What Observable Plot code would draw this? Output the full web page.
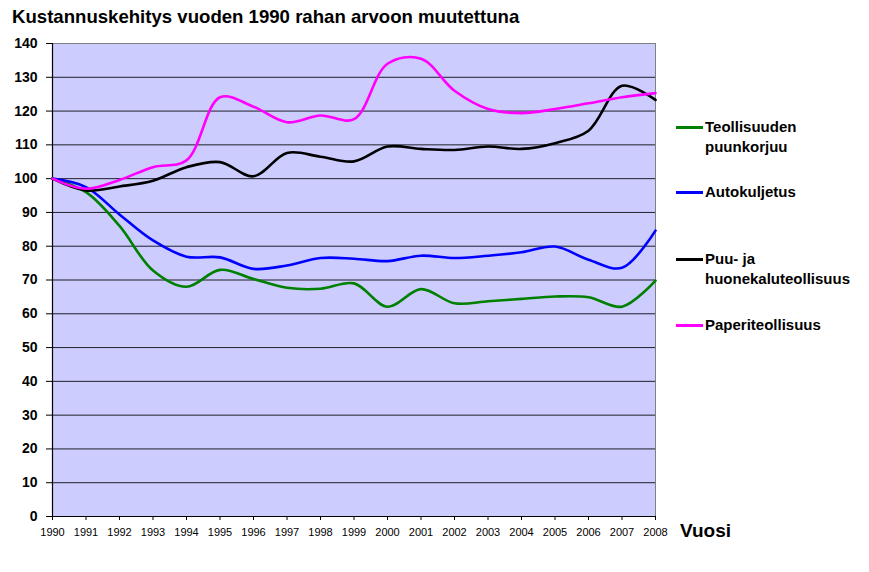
<!DOCTYPE html>
<html>
<head>
<meta charset="utf-8">
<script src="https://cdn.jsdelivr.net/npm/d3@7"></script>
<script src="https://cdn.jsdelivr.net/npm/@observablehq/plot@0.6"></script>
<style>
  body { margin: 0; background: #fff; font-family: "Liberation Sans", Arial, sans-serif; }
  #wrap { position: relative; width: 869px; height: 572px; }
  #title { position: absolute; left: 12px; top: 6px; font-size: 18.6px; font-weight: bold; color: #000; white-space: nowrap; }
  #xlabel { position: absolute; left: 680px; top: 520px; font-size: 19px; font-weight: bold; }
  .leg { position: absolute; left: 676px; font-size: 15px; font-weight: bold; line-height: 20px; }
  .leg .sw { position: absolute; left: 0; top: 9px; width: 27px; height: 3px; }
  .leg .tx { margin-left: 29px; white-space: nowrap; }
  svg { position: absolute; left: 0; top: 0; }
</style>
</head>
<body>
<div id="wrap">
  <div id="chart"></div>
  <div id="title">Kustannuskehitys vuoden 1990 rahan arvoon muutettuna</div>
  <div id="xlabel">Vuosi</div>
  <div id="legend"></div>
</div>
<script>
const years = [1990,1991,1992,1993,1994,1995,1996,1997,1998,1999,2000,2001,2002,2003,2004,2005,2006,2007,2008];
const puunkorjuu = [100,96,86,72.8,68,73,70.3,67.7,67.4,69,62.1,67.3,63.1,63.7,64.4,65.1,64.9,62.1,69.8];
const autokuljetus = [100,97.5,89.4,81.7,76.9,76.7,73.3,74.3,76.5,76.3,75.6,77.2,76.5,77.2,78.2,79.9,76,73.6,84.6];
const puuHuonekalu = [100,96.5,97.7,99.4,103.4,104.9,100.7,107.6,106.5,105.1,109.5,108.8,108.5,109.5,108.8,110.5,114.2,127.5,123.3];
const paperi = [100,97,99.6,103.4,105.4,124.1,121.3,116.7,118.7,117.6,134,135.5,126,120.6,119.4,120.6,122.3,124.1,125.3];
const seriesNames = ["Teollisuuden puunkorjuu", "Autokuljetus", "Puu- ja huonekaluteollisuus", "Paperiteollisuus"];
const legendLines = [["Teollisuuden", "puunkorjuu"], ["Autokuljetus"], ["Puu- ja", "huonekaluteollisuus"], ["Paperiteollisuus"]];
const seriesValues = [puunkorjuu, autokuljetus, puuHuonekalu, paperi];
const colors = ["#008000", "#0000ff", "#000000", "#ff00ff"];
const yTicks = d3.range(0, 141, 10);

const rows = seriesNames.flatMap((s, i) => years.map((yr, j) => ({series: s, year: yr, value: seriesValues[i][j]})));

const chart = Plot.plot({
  width: 869,
  height: 572,
  marginLeft: 52,
  marginRight: 214,
  marginTop: 43,
  marginBottom: 56,
  style: {background: "transparent", fontFamily: "'Liberation Sans', Arial, sans-serif"},
  x: {domain: [1990, 2008], label: null},
  y: {domain: [0, 140], label: null},
  marks: [
    Plot.frame({fill: "#ccccff", stroke: "#808080", strokeWidth: 1}),
    Plot.ruleY(yTicks.filter(d => d > 0 && d < 140), {stroke: "#000", strokeWidth: 1, strokeOpacity: 0.85}),
    Plot.axisY({ticks: yTicks, tickSize: 6, tickPadding: 9, fontSize: 14, fontWeight: "bold", stroke: "#000", color: "#000", label: null}),
    Plot.axisX({ticks: years, tickFormat: d => String(d), tickSize: 4, tickPadding: 8, fontSize: 11,
      fontFamily: "'Liberation Sans Narrow', 'Arial Narrow', 'Liberation Sans', sans-serif", stroke: "#000", color: "#000", label: null}),
    Plot.ruleX([1990], {stroke: "#000", strokeWidth: 1.2}),
    Plot.ruleY([0], {stroke: "#000", strokeWidth: 1.2}),
    ...seriesNames.map((s, i) => Plot.line(rows.filter(r => r.series === s), {
      x: "year", y: "value", stroke: colors[i], strokeWidth: 2.6, curve: "catmull-rom"
    }))
  ]
});
document.getElementById("chart").appendChild(chart);

const legendTops = [117, 182, 249, 315];
const leg = document.getElementById("legend");
legendLines.forEach((lines, i) => {
  const d = document.createElement("div");
  d.className = "leg";
  d.style.top = legendTops[i] + "px";
  d.innerHTML = `<div class="sw" style="background:${colors[i]}"></div><div class="tx">${lines.join("<br>")}</div>`;
  leg.appendChild(d);
});
</script>
</body>
</html>
